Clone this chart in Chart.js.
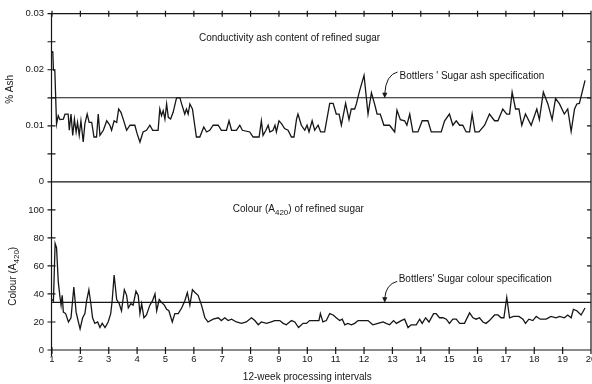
<!DOCTYPE html>
<html>
<head>
<meta charset="utf-8">
<script src="https://cdn.jsdelivr.net/npm/chart.js@4.4.1/dist/chart.umd.min.js"></script>
<style>
  html, body { margin: 0; padding: 0; background: #fff; overflow: hidden; }
  #wrap { width: 592px; height: 384px; overflow: hidden; }
  canvas { display: block; }
</style>
</head>
<body>
<div id="wrap"><canvas id="sugarChart" width="620" height="384"></canvas></div>
<script>
// 12-week processing intervals
const ashX = [1.00, 1.03, 1.05, 1.10, 1.16, 1.22, 1.28, 1.40, 1.46, 1.57, 1.61, 1.67, 1.73, 1.79, 1.85, 1.90, 1.96,
  2.02, 2.10, 2.16, 2.24, 2.31, 2.40, 2.48, 2.57, 2.63, 2.69, 2.81, 2.93, 3.04, 3.10, 3.19, 3.28, 3.35, 3.43, 3.51,
  3.63, 3.75, 3.92, 4.00, 4.10, 4.21, 4.33, 4.45, 4.55, 4.74, 4.80, 4.86, 4.92, 4.98, 5.04, 5.10, 5.18, 5.27, 5.39,
  5.51, 5.57, 5.68, 5.74, 5.80, 5.86, 5.95, 6.09, 6.21, 6.35, 6.45, 6.56, 6.68, 6.86, 6.97, 7.15, 7.24, 7.33, 7.50,
  7.62, 7.71, 7.97, 8.09, 8.30, 8.38, 8.44, 8.54, 8.62, 8.68, 8.79, 8.86, 8.91, 9.00, 9.09, 9.20, 9.32, 9.44, 9.53,
  9.62, 9.67, 9.79, 9.91, 9.99, 10.06, 10.17, 10.26, 10.38, 10.47, 10.61, 10.79, 10.91, 11.02, 11.12, 11.20, 11.35,
  11.47, 11.55, 11.67, 11.73, 11.84, 12.00, 12.14, 12.26, 12.37, 12.46, 12.57, 12.70, 12.90, 13.08, 13.16, 13.28,
  13.43, 13.51, 13.61, 13.72, 13.90, 14.05, 14.25, 14.37, 14.72, 14.84, 15.01, 15.13, 15.25, 15.37, 15.48, 15.60,
  15.72, 15.81, 15.91, 16.05, 16.25, 16.42, 16.60, 16.72, 16.89, 17.03, 17.13, 17.22, 17.34, 17.46, 17.56, 17.69,
  17.89, 18.09, 18.18, 18.32, 18.48, 18.63, 18.75, 18.89, 19.06, 19.18, 19.30, 19.42, 19.50, 19.59, 19.79];
// conductivity ash, %
const ashY = [0.0233, 0.0230, 0.0200, 0.0198, 0.0103, 0.0118, 0.0111, 0.0112, 0.0121, 0.0121, 0.0092, 0.0121, 0.0083,
  0.0112, 0.0089, 0.0106, 0.0083, 0.0109, 0.0071, 0.0104, 0.0121, 0.0106, 0.0106, 0.0080, 0.0080, 0.0121, 0.0083,
  0.0092, 0.0109, 0.0101, 0.0092, 0.0109, 0.0106, 0.0130, 0.0124, 0.0112, 0.0092, 0.0101, 0.0101, 0.0086, 0.0071,
  0.0089, 0.0092, 0.0101, 0.0092, 0.0092, 0.0130, 0.0118, 0.0127, 0.0112, 0.0139, 0.0115, 0.0112, 0.0124, 0.0150,
  0.0150, 0.0139, 0.0121, 0.0130, 0.0121, 0.0139, 0.0130, 0.0080, 0.0080, 0.0098, 0.0089, 0.0092, 0.0101, 0.0101,
  0.0092, 0.0092, 0.0109, 0.0092, 0.0092, 0.0101, 0.0092, 0.0089, 0.0080, 0.0080, 0.0109, 0.0083, 0.0092, 0.0101,
  0.0089, 0.0092, 0.0101, 0.0089, 0.0109, 0.0104, 0.0095, 0.0092, 0.0080, 0.0080, 0.0112, 0.0121, 0.0101, 0.0092,
  0.0101, 0.0089, 0.0109, 0.0092, 0.0101, 0.0089, 0.0089, 0.0140, 0.0140, 0.0121, 0.0121, 0.0101, 0.0140, 0.0111,
  0.0130, 0.0130, 0.0139, 0.0162, 0.0190, 0.0121, 0.0159, 0.0139, 0.0121, 0.0121, 0.0101, 0.0101, 0.0089, 0.0128,
  0.0111, 0.0109, 0.0101, 0.0121, 0.0089, 0.0089, 0.0109, 0.0109, 0.0089, 0.0089, 0.0109, 0.0121, 0.0101, 0.0109,
  0.0101, 0.0101, 0.0089, 0.0089, 0.0121, 0.0089, 0.0089, 0.0101, 0.0121, 0.0109, 0.0109, 0.0130, 0.0121, 0.0121,
  0.0160, 0.0130, 0.0130, 0.0101, 0.0121, 0.0101, 0.0130, 0.0111, 0.0160, 0.0139, 0.0111, 0.0149, 0.0139, 0.0121,
  0.0130, 0.0090, 0.0130, 0.0139, 0.0140, 0.0181];

const colourX = [1.00, 1.05, 1.11, 1.16, 1.22, 1.28, 1.32, 1.36, 1.40, 1.48, 1.58, 1.67, 1.77, 1.85, 1.93, 1.99, 2.08,
  2.16, 2.22, 2.30, 2.37, 2.43, 2.51, 2.61, 2.69, 2.77, 2.87, 2.98, 3.07, 3.12, 3.19, 3.28, 3.37, 3.45, 3.55, 3.63,
  3.69, 3.78, 3.86, 3.96, 4.04, 4.10, 4.16, 4.24, 4.33, 4.45, 4.54, 4.63, 4.69, 4.78, 4.86, 4.96, 5.04, 5.12, 5.24,
  5.33, 5.45, 5.57, 5.68, 5.77, 5.86, 5.95, 6.04, 6.15, 6.27, 6.39, 6.50, 6.68, 6.86, 6.97, 7.09, 7.21, 7.33, 7.50,
  7.68, 7.85, 8.03, 8.15, 8.27, 8.38, 8.56, 8.73, 8.85, 9.03, 9.15, 9.26, 9.44, 9.56, 9.69, 9.85, 9.97, 10.08, 10.26,
  10.41, 10.46, 10.55, 10.67, 10.79, 10.91, 11.02, 11.14, 11.23, 11.32, 11.43, 11.55, 11.67, 11.79, 11.96, 12.14,
  12.31, 12.49, 12.67, 12.78, 12.90, 13.04, 13.14, 13.31, 13.43, 13.55, 13.66, 13.84, 13.96, 14.05, 14.17, 14.29,
  14.45, 14.54, 14.66, 14.78, 14.90, 15.01, 15.13, 15.25, 15.37, 15.54, 15.72, 15.84, 15.95, 16.07, 16.19, 16.30,
  16.42, 16.60, 16.72, 16.83, 16.93, 17.03, 17.13, 17.27, 17.46, 17.60, 17.69, 17.81, 17.95, 18.07, 18.21, 18.42,
  18.59, 18.77, 18.89, 19.06, 19.18, 19.30, 19.38, 19.50, 19.65, 19.79];
// colour, A420
const colourY = [36, 35, 76, 73, 49, 38, 32, 39, 27, 26, 20, 23, 45, 27, 20, 15, 23,
  26, 35, 43, 33, 23, 19, 20, 16, 19, 16, 20, 26, 35, 53.5, 36, 33, 28, 43, 39,
  30, 33, 32, 42, 39, 26, 33, 23, 25, 32, 35, 40, 28, 36, 34, 32, 29, 28, 20,
  26, 26, 30, 35, 41, 32, 43, 41, 39, 32, 23, 20, 22, 23, 21, 23, 21, 22, 20,
  19, 20, 23, 21, 18, 20, 19, 20, 21, 21, 19, 18, 21, 20, 16, 19, 19, 21, 21,
  21, 26, 20, 21, 26, 25, 23, 21, 22, 18, 19, 18, 19, 21, 21, 21,
  18, 19, 20, 19, 18, 21, 19, 21, 22, 16, 18, 18, 22, 19, 23, 20,
  26, 26, 23, 23, 22, 19, 22, 22, 19, 19, 26.5, 23, 22, 23, 20, 19,
  21, 25, 25, 23, 23, 37.5, 23, 24, 24, 22, 19, 22, 21, 24, 22, 22,
  24, 23, 24, 23, 25, 23, 29, 28, 25, 30];

const ashSpec = 0.015;
const colourSpec = 34;

const FONT = "'Liberation Sans', Arial, sans-serif";
const INK = '#161616';

function toPoints(xs, ys) {
  return xs.map((x, i) => ({ x: x, y: ys[i] }));
}

function specLine(value) {
  return [{ x: 1, y: value }, { x: 20, y: value }];
}

// text with a subscript part, e.g. A420
function partsWidth(ctx, parts, size) {
  let w = 0;
  parts.forEach(([t, sub]) => {
    ctx.font = `${sub ? size * 0.8 : size}px ${FONT}`;
    w += ctx.measureText(t).width;
  });
  return w;
}
function drawParts(ctx, parts, x, y, size) {
  let cx = x;
  parts.forEach(([t, sub]) => {
    ctx.font = `${sub ? size * 0.8 : size}px ${FONT}`;
    ctx.fillText(t, cx, y + (sub ? size * 0.38 : 0));
    cx += ctx.measureText(t).width;
  });
}

function drawArrow(ctx, x0, y0, x1, y1) {
  ctx.beginPath();
  ctx.moveTo(x0, y0);
  ctx.quadraticCurveTo(x1 + 1, y0 + 3, x1, y1 - 4);
  ctx.stroke();
  ctx.beginPath();
  ctx.moveTo(x1, y1 + 0.5);
  ctx.lineTo(x1 - 2.6, y1 - 5);
  ctx.lineTo(x1 + 2.6, y1 - 5);
  ctx.closePath();
  ctx.fill();
}

const framePlugin = {
  id: 'frame',
  afterDatasetsDraw(chart) {
    const { ctx, chartArea, scales } = chart;
    const { x, ya, yc } = scales;
    const L = chartArea.left - 0.5;
    const R = chartArea.right;
    ctx.save();
    ctx.strokeStyle = INK;
    ctx.fillStyle = INK;
    ctx.lineWidth = 1.2;

    ctx.beginPath();
    ctx.rect(L, ya.top, R - L, ya.bottom - ya.top);
    ctx.rect(L, yc.top, R - L, yc.bottom - yc.top);
    ctx.moveTo(L, yc.bottom);
    ctx.lineTo(L, yc.bottom + 6);
    for (let i = 1; i <= 20; i++) {
      const px = x.getPixelForValue(i);
      ctx.moveTo(px, ya.top - 3);
      ctx.lineTo(px, ya.top + 3);
      ctx.moveTo(px, yc.bottom - 3);
      ctx.lineTo(px, yc.bottom + 4);
    }
    [ya, yc].forEach(s => {
      s.ticks.forEach(t => {
        const py = s.getPixelForValue(t.value);
        ctx.moveTo(L - 4, py);
        ctx.lineTo(L + 4, py);
        ctx.moveTo(R - 4, py);
        ctx.lineTo(R, py);
      });
    });
    ctx.stroke();

    // annotations
    ctx.textAlign = 'left';
    ctx.textBaseline = 'middle';
    ctx.font = `10px ${FONT}`;
    ctx.fillText('Conductivity ash content of refined sugar', x.getPixelForValue(6.18), ya.getPixelForValue(0.0256));
    ctx.font = `10px ${FONT}`;
    ctx.fillText("Bottlers ' Sugar ash specification", x.getPixelForValue(13.25), ya.getPixelForValue(0.0189));
    drawParts(ctx, [['Colour (A', false], ['420', true], [') of refined sugar', false]],
      x.getPixelForValue(7.37), yc.getPixelForValue(100.5), 10);
    ctx.font = `10px ${FONT}`;
    ctx.fillText("Bottlers' Sugar colour specification", x.getPixelForValue(13.22), yc.getPixelForValue(50.5));

    ctx.lineWidth = 1;
    drawArrow(ctx, x.getPixelForValue(13.18), ya.getPixelForValue(0.0196), x.getPixelForValue(12.73), ya.getPixelForValue(ashSpec));
    drawArrow(ctx, x.getPixelForValue(13.17), yc.getPixelForValue(49), x.getPixelForValue(12.73), yc.getPixelForValue(colourSpec));

    // axis titles
    ctx.textAlign = 'center';
    ctx.font = `10px ${FONT}`;
    ctx.fillText('12-week processing intervals', x.getPixelForValue(10), yc.bottom + 27);

    ctx.save();
    ctx.translate(chartArea.left - 42, ya.getPixelForValue(0.0165));
    ctx.rotate(-Math.PI / 2);
    ctx.font = `10px ${FONT}`;
    ctx.fillText('% Ash', 0, 0);
    ctx.restore();

    ctx.save();
    ctx.translate(chartArea.left - 39, yc.getPixelForValue(52.6));
    ctx.rotate(-Math.PI / 2);
    ctx.textAlign = 'left';
    const parts = [['Colour (A', false], ['420', true], [')', false]];
    drawParts(ctx, parts, -partsWidth(ctx, parts, 10) / 2, 0, 10);
    ctx.restore();

    ctx.restore();
  }
};

const tickFont = { family: FONT, size: 9.5 };

const sugarChart = new Chart(document.getElementById('sugarChart').getContext('2d'), {
  type: 'line',
  data: {
    datasets: [
      { label: 'Ash', data: toPoints(ashX, ashY), yAxisID: 'ya', borderColor: INK, borderWidth: 1.3,
        pointRadius: 0, tension: 0 },
      { label: 'Ash specification', data: specLine(ashSpec), yAxisID: 'ya', borderColor: INK, borderWidth: 1.1,
        pointRadius: 0 },
      { label: 'Colour', data: toPoints(colourX, colourY), yAxisID: 'yc', borderColor: INK, borderWidth: 1.3,
        pointRadius: 0, tension: 0 },
      { label: 'Colour specification', data: specLine(colourSpec), yAxisID: 'yc', borderColor: INK, borderWidth: 1.1,
        pointRadius: 0 }
    ]
  },
  options: {
    responsive: false,
    animation: false,
    layout: { padding: { top: 8, right: 29, left: 0, bottom: 0 } },
    plugins: { legend: { display: false }, tooltip: { enabled: false } },
    scales: {
      x: {
        type: 'linear', position: 'bottom', min: 1, max: 20,
        ticks: { stepSize: 1, padding: 4, color: INK, font: tickFont, maxRotation: 0, autoSkip: false },
        grid: { display: false, drawTicks: false },
        border: { display: false },
        afterFit: s => { s.height = 34; }
      },
      // left boxes in a stack are laid out in reverse order, so the lower panel comes first
      yc: {
        type: 'linear', position: 'left', stack: 'panels', stackWeight: 1, min: 0, max: 120,
        ticks: {
          stepSize: 20, padding: 8, color: INK, font: tickFont,
          callback: v => (v === 120 ? '' : v)
        },
        grid: { display: false, drawTicks: false },
        border: { display: false },
        afterFit: s => { s.width = 52; }
      },
      ya: {
        type: 'linear', position: 'left', stack: 'panels', stackWeight: 1, min: 0, max: 0.03,
        ticks: {
          stepSize: 0.005, padding: 8, color: INK, font: tickFont,
          callback: v => {
            const r = Math.round(v * 1000);
            if (r % 10 !== 0) return '';
            return r === 0 ? '0' : (r / 1000).toFixed(2);
          }
        },
        grid: { display: false, drawTicks: false },
        border: { display: false },
        afterFit: s => { s.width = 52; }
      }
    }
  },
  plugins: [framePlugin]
});
</script>
</body>
</html>
